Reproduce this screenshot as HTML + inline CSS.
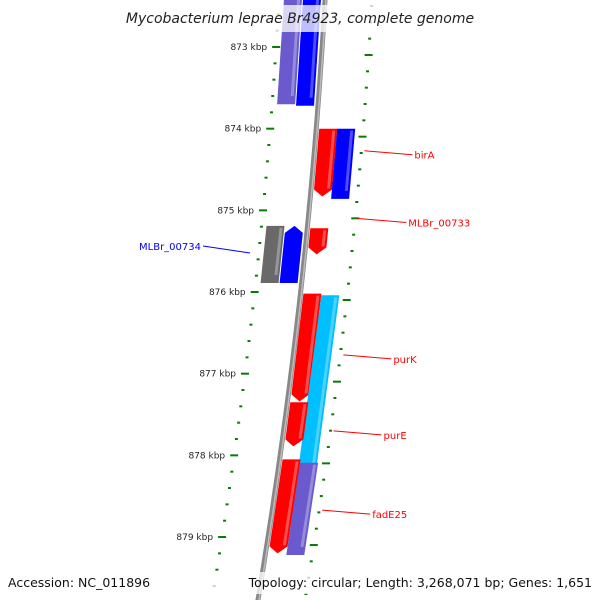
<!DOCTYPE html>
<html><head><meta charset="utf-8"><style>body{margin:0;background:#fff}svg{display:block}text{font-family:"DejaVu Sans","Liberation Sans",sans-serif}</style></head>
<body>
<svg id="c" width="600" height="600" viewBox="0 0 600 600"></svg>
<script>
const featStart=[872.3,874.0,874.0,875.22,875.19,876.02,876.04,877.35,878.05,878.09,872.3];
const featEnd=[873.7,874.83,874.86,875.54,875.89,877.34,878.92,877.89,879.2,879.22,873.72];
const featLane=[-2,1,2,1,-2,1,2,1,1,2,-1];
const featDir=[0,1,0,1,0,1,0,1,1,0,0];
const featColor=['#6a5acd','#ff0000','#0000ff','#ff0000','#696969','#ff0000','#00bfff','#ff0000','#ff0000','#6a5acd','#0000ff'];
const arrowUp=[0,0,0,0,0,0,0,0,0,0,0];
const blueArrow=[875.19,875.89];
const tickKbp=[873,874,875,876,877,878,879];
const labels=['birA','MLBr_00733','purK','purE','fadE25'];
const labelKbp=[874.27,875.1,876.77,877.7,878.67];
const NS='http://www.w3.org/2000/svg',svg=document.getElementById('c');
function yK(k){return 47+(k-873)*81.67;}
function b(y){return 325-0.0566*y-0.000092*y*y;}
function el(t,a,p){const e=document.createElementNS(NS,t);for(const k in a)e.setAttribute(k,a[k]);(p||svg).appendChild(e);return e;}
// backbone
let pts=[];for(let y=-5;y<=605;y+=10)pts.push(b(y).toFixed(1)+','+y);
let bb=el('polyline',{points:pts.join(' '),fill:'none',stroke:'#888',"stroke-width":5});

el('polyline',{points:pts.join(' '),fill:'none',stroke:'#bbb',"stroke-width":1.5,transform:'translate(1,0)'});
// ticks
for(let k=872.4;k<=879.8;k+=0.2){const kk=Math.round(k*10)/10;const y=yK(kk);const maj=Math.abs(kk-Math.round(kk))<0.01;
 const x=b(y)-46,len=maj?8:3;
 const t=el('line',{x1:x-len/2,y1:y,x2:x+len/2,y2:y,stroke:'#0a7a0a',"stroke-width":2});
 
 const y2=y+8,x2=b(y2)+47;
 const t2=el('line',{x1:x2-len/2,y1:y2,x2:x2+len/2,y2:y2,stroke:'#0a7a0a',"stroke-width":2});
 }
tickKbp.forEach(k=>{const y=yK(k);const t=el('text',{x:b(y)-55,y:y+3,"font-size":9,"text-anchor":"end",fill:'#222'});t.textContent=k+' kbp';
 });
// features
const laneOff={'-2':[-41,-23],'-1':[-22,-4],'1':[3,21],'2':[21,39]};
featStart.forEach((s,i)=>{const y1=yK(s),y2=yK(featEnd[i]);const [o1,o2]=laneOff[featLane[i]];
 let p;const a=7;
 if(featDir[i]===1){const ym=y2-a;p=[[b(y1)+o1,y1],[b(y1)+o2,y1],[b(ym)+o2,ym],[b(y2)+(o1+o2)/2,y2],[b(ym)+o1,ym]];}
 else if(s>=blueArrow[0]-0.01&&featColor[i]==='#0000ff'){const ym=y1+a;p=[[b(y1)+(o1+o2)/2,y1],[b(ym)+o2,ym],[b(y2)+o2,y2],[b(y2)+o1,y2],[b(ym)+o1,ym]];}
 else p=[[b(y1)+o1,y1],[b(y1)+o2,y1],[b(y2)+o2,y2],[b(y2)+o1,y2]];
 const g=el('polygon',{points:p.map(q=>q[0].toFixed(1)+','+q[1].toFixed(1)).join(' '),fill:featColor[i]});
 
 el('polygon',{points:[[b(y1)+o2-5,y1+2],[b(y1)+o2-2,y1+2],[b(y2-8)+o2-2,y2-8],[b(y2-8)+o2-5,y2-8]].map(q=>q.join(',')).join(' '),fill:'#fff',opacity:0.3});
});
// blue arrow feature near grey (MLBr_00734)
{const y1=yK(blueArrow[0]),y2=yK(blueArrow[1]),o1=-22,o2=-4,ym=y1+7;
 const g=el('polygon',{points:[[b(y1)+(o1+o2)/2,y1],[b(ym)+o2,ym],[b(y2)+o2,y2],[b(y2)+o1,y2],[b(ym)+o1,ym]].map(q=>q.join(',')).join(' '),fill:'#0000ff'});
 }
// labels
labels.forEach((l,i)=>{const y=yK(labelKbp[i]);const x=b(y)+50;
 el('line',{x1:x,y1:y,x2:x+48,y2:y+4,stroke:'#f00',"stroke-width":1});
 const t=el('text',{x:x+50,y:y+8,"font-size":10,fill:'#f00'});t.textContent=l;
 });
el('line',{x1:203,y1:246,x2:250,y2:253,stroke:'#00f',"stroke-width":1});
{const t=el('text',{x:201,y:250,"font-size":10,fill:'#00f',"text-anchor":"end"});t.textContent='MLBr_00734';
 }
// title band
el('rect',{x:0,y:5,width:600,height:27,fill:'#fff',opacity:0.75});
{const t=el('text',{x:300,y:23,"font-size":14,"font-style":"italic","text-anchor":"middle",fill:'#222'});t.textContent='Mycobacterium leprae Br4923, complete genome';
 }
el('rect',{x:0,y:572,width:600,height:22,fill:'#fff',opacity:0.75});
{const t=el('text',{x:8,y:587,"font-size":12.5,fill:'#111'});t.textContent='Accession: NC_011896';
 }
{const t=el('text',{x:592,y:587,"font-size":12.5,fill:'#111',"text-anchor":"end"});t.textContent='Topology: circular; Length: 3,268,071 bp; Genes: 1,651';
 }
</script>
</body></html>
